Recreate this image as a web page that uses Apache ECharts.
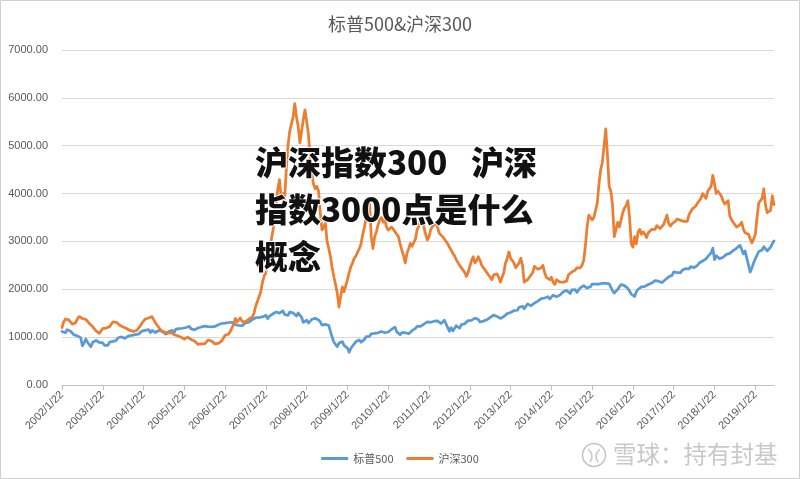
<!DOCTYPE html>
<html>
<head>
<meta charset="utf-8">
<script src="https://cdn.jsdelivr.net/npm/echarts@6/dist/echarts.min.js"></script>
<style>
html,body{margin:0;padding:0;background:#fff;}
#chart{width:800px;height:479px;}
</style>
</head>
<body>
<div id="chart"></div>
<script>
// Semi-monthly samples (7th and 22nd of each month) from 2002/1/22 to 2019/7/7
const seriesNames = ['标普500', '沪深300'];
const titleText = '标普500&沪深300';
const headlineA = '沪深指数300';
const headlineB = '沪深';
const headlineRest = '指数3000点是什么\n概念';
const watermark = '雪球：持有封基';

const sp500 = [
  1119,1081,1090,1157,1148,1122,1097,1050,1086,1027,990,990,820,876,962,893,845,800,890,923,930,907,889,922,
  878,830,848,829,895,878,911,929,933,987,995,1004,988,974,993,1021,1022,1039,1030,1053,1035,1061,1092,1126,
  1143,1142,1144,1156,1095,1140,1139,1098,1094,1140,1144,1118,1097,1064,1098,1121,1113,1142,1095,1166,1177,1178,1210,1186,
  1167,1202,1184,1225,1172,1191,1152,1171,1190,1197,1213,1198,1230,1226,1220,1236,1214,1190,1223,1250,1260,1268,1285,1262,
  1292,1276,1306,1296,1311,1325,1263,1257,1245,1265,1241,1276,1298,1294,1315,1350,1368,1383,1406,1412,1410,1410,1423,1450,
  1457,1385,1436,1443,1485,1509,1525,1490,1503,1530,1550,1476,1464,1453,1525,1557,1506,1476,1440,1504,1485,1416,1310,1336,
  1353,1293,1330,1373,1376,1393,1391,1360,1318,1252,1282,1266,1292,1242,1207,996,896,930,800,876,871,906,828,868,
  770,683,768,815,843,907,887,940,893,881,954,1010,1026,1016,1071,1057,1081,1069,1091,1103,1118,1141,1092,1067,
  1108,1138,1166,1182,1208,1110,1088,1051,1096,1060,1093,1121,1071,1092,1134,1159,1183,1225,1198,1224,1258,1271,1283,1319,
  1315,1310,1293,1333,1337,1340,1317,1285,1287,1353,1345,1199,1124,1198,1129,1155,1238,1261,1188,1261,1254,1278,1315,1347,
  1357,1352,1393,1398,1378,1369,1316,1315,1335,1355,1362,1401,1413,1437,1460,1460,1433,1395,1391,1418,1430,1461,1492,1509,
  1516,1544,1556,1553,1562,1625,1655,1643,1592,1631,1695,1690,1656,1655,1710,1676,1754,1747,1804,1805,1818,1838,1844,1797,
  1836,1878,1866,1845,1879,1878,1892,1950,1962,1977,1983,1910,1988,2007,1994,1935,1928,2031,2063,2075,2070,2025,2063,2055,
  2110,2071,2108,2076,2107,2088,2126,2092,2122,2081,2114,2078,1971,1921,1943,1995,2052,2099,2089,2077,2038,2020,1960,1900,
  1880,1850,1950,2000,2040,2050,2080,2060,2060,2100,2080,2130,2170,2180,2180,2170,2150,2140,2130,2200,2240,2260,2270,2290,
  2362,2368,2348,2355,2349,2399,2395,2433,2434,2425,2472,2480,2452,2465,2502,2549,2575,2591,2597,2636,2683,2700,2760,2860,
  2620,2700,2720,2640,2610,2670,2680,2730,2770,2750,2770,2810,2850,2860,2880,2920,2880,2740,2800,2650,2630,2360,2450,2550,
  2640,2710,2790,2750,2820,2890,2900,2800,2760,2880,2950,3010
];

const csi300 = [
  1200,1320,1380,1370,1360,1330,1270,1250,1300,1380,1430,1420,1390,1400,1370,1330,1290,1250,1220,1180,1130,1100,1080,1120,
  1180,1170,1190,1210,1220,1270,1320,1300,1310,1290,1250,1230,1210,1190,1180,1170,1140,1130,1120,1110,1140,1180,1230,1290,
  1320,1380,1410,1400,1420,1430,1360,1300,1250,1200,1150,1120,1110,1090,1080,1060,1100,1080,1050,1040,1030,1010,1000,990,
  960,950,1000,1010,950,930,920,900,850,830,860,880,860,900,940,930,920,890,860,850,870,890,920,960,
  1040,1030,1060,1120,1160,1260,1390,1320,1350,1400,1330,1290,1320,1350,1380,1400,1420,1500,1650,1750,1850,1950,2150,2280,
  2350,2500,2800,3000,3200,3400,3800,4100,4290,3900,4000,3870,4500,5000,5300,5450,5600,5880,5600,5400,5060,5300,5550,5750,
  5500,5250,4800,4430,4200,4100,4150,4050,3600,3240,3300,3380,3000,2850,2680,2450,2260,2100,1920,1630,1850,2050,1950,1920,
  2200,2350,2475,2550,2650,2700,2780,2850,2950,3150,3300,3500,3650,3800,3100,2850,3100,3200,3350,3450,3500,3400,3450,3300,
  3240,3250,3300,3310,3200,3150,3100,2950,2820,2700,2550,2750,2850,2960,2900,2890,3050,3250,3310,3450,3500,3300,3150,3030,
  3100,3250,3310,3350,3380,3300,3170,3150,3100,3050,3030,2950,2880,2820,2750,2700,2620,2580,2500,2480,2400,2350,2270,2350,
  2480,2600,2680,2550,2600,2680,2600,2500,2450,2400,2350,2300,2250,2200,2300,2280,2320,2250,2150,2150,2350,2550,2650,2780,
  2650,2600,2550,2450,2450,2550,2650,2500,2150,2150,2200,2250,2300,2350,2480,2450,2420,2400,2450,2500,2350,2250,2250,2200,
  2250,2150,2100,2200,2180,2150,2150,2150,2150,2170,2300,2300,2360,2400,2400,2450,2450,2450,2500,2600,2900,3300,3550,3500,
  3450,3500,3530,3800,4200,4500,4650,5000,5350,4800,4150,4050,3750,3100,3250,3400,3300,3450,3600,3700,3750,3850,3500,2950,
  2880,3100,2950,3200,3250,3150,3200,3150,3080,3180,3150,3250,3230,3250,3330,3350,3270,3280,3350,3450,3550,3380,3320,3370,
  3380,3420,3470,3450,3440,3480,3420,3380,3420,3560,3620,3680,3720,3740,3800,3850,3900,4000,3950,3900,4050,4050,4150,4380,
  4200,4000,4050,4000,3950,3850,3780,3800,3850,3530,3450,3400,3350,3300,3280,3350,3400,3250,3180,3200,3150,3050,2970,3050,
  3150,3500,3800,3850,3900,4100,3750,3600,3600,3650,3950,3770
];

// category dates
const dates = [];
for (let y = 2002; y <= 2019; y++) {
  for (let m = 1; m <= 12; m++) {
    for (const d of [7, 22]) {
      if (y === 2002 && m === 1 && d === 7) continue;
      if (y === 2019 && (m > 7 || (m === 7 && d === 22))) continue;
      dates.push(y + '/' + m + '/' + d);
    }
  }
}
const isYearTick = (i, v) => /\/1\/22$/.test(v);

const chart = echarts.init(document.getElementById('chart'), null, {renderer: 'canvas'});
const labelColor = '#595959';
const headFont = '900 33px "Noto Sans CJK SC", sans-serif';
chart.setOption({
  animation: false,
  backgroundColor: '#fff',
  color: ['#5B9BD5', '#ED7D31'],
  title: {
    text: titleText,
    left: 'center',
    top: 10,
    textStyle: {fontSize: 18, fontWeight: 'normal', color: labelColor, fontFamily: '"Noto Sans CJK SC", sans-serif'}
  },
  legend: {
    data: seriesNames,
    bottom: 10,
    left: 'center',
    icon: 'rect',
    itemWidth: 27,
    itemHeight: 3,
    itemGap: 13,
    textStyle: {fontSize: 11, color: labelColor, fontFamily: '"Noto Sans CJK SC", sans-serif'}
  },
  grid: {left: 62, right: 26, top: 50, bottom: 94, containLabel: false},
  xAxis: {
    type: 'category',
    data: dates,
    boundaryGap: false,
    axisLine: {lineStyle: {color: '#BFBFBF', width: 1}},
    axisTick: {show: true, interval: isYearTick, length: 5, lineStyle: {color: '#BFBFBF'}},
    axisLabel: {
      interval: isYearTick,
      rotate: 45,
      fontSize: 11,
      color: labelColor,
      fontFamily: '"Liberation Sans", Arial, sans-serif',
      margin: 8
    },
    splitLine: {show: false}
  },
  yAxis: {
    type: 'value',
    min: 0,
    max: 7000,
    interval: 1000,
    axisLine: {show: false},
    axisTick: {show: false},
    axisLabel: {
      formatter: v => v.toFixed(2),
      fontSize: 11,
      color: labelColor,
      margin: 14,
      fontFamily: '"Liberation Sans", Arial, sans-serif'
    },
    splitLine: {lineStyle: {color: '#D9D9D9', width: 1}}
  },
  series: [
    {name: seriesNames[0], type: 'line', data: sp500, showSymbol: false, symbol: 'none',
     lineStyle: {width: 2.75, color: '#5B9BD5', join: 'round', cap: 'round'}, z: 2},
    {name: seriesNames[1], type: 'line', data: csi300, showSymbol: false, symbol: 'none',
     lineStyle: {width: 2.75, color: '#ED7D31', join: 'round', cap: 'round'}, z: 3}
  ],
  graphic: [
    {type: 'rect', z: 100, silent: true,
     shape: {x: 0.5, y: 0.5, width: 799, height: 478},
     style: {fill: null, stroke: '#D0D0D0', lineWidth: 1}},
    {type: 'text', z: 100, x: 255, y: 139, silent: true,
     style: {text: headlineA, font: headFont, fill: '#111111', stroke: '#ffffff', lineWidth: 2, lineHeight: 47}},
    {type: 'text', z: 100, x: 471, y: 139, silent: true,
     style: {text: headlineB, font: headFont, fill: '#111111', stroke: '#ffffff', lineWidth: 2, lineHeight: 47}},
    {type: 'text', z: 100, x: 255, y: 186, silent: true,
     style: {text: headlineRest, font: headFont, fill: '#111111', stroke: '#ffffff', lineWidth: 2, lineHeight: 47}},
    {type: 'circle', z: 100, silent: true, shape: {cx: 594, cy: 455, r: 11.5},
     style: {fill: null, stroke: '#C4C4C4', lineWidth: 1.5}},
    {type: 'bezierCurve', z: 100, silent: true,
     shape: {x1: 588, y1: 449, x2: 590, y2: 462, cpx1: 595, cpy1: 455},
     style: {fill: null, stroke: '#C4C4C4', lineWidth: 1.3}},
    {type: 'bezierCurve', z: 100, silent: true,
     shape: {x1: 600, y1: 449, x2: 598, y2: 462, cpx1: 593, cpy1: 455},
     style: {fill: null, stroke: '#C4C4C4', lineWidth: 1.3}},
    {type: 'text', z: 100, x: 613, y: 442, silent: true,
     style: {text: watermark, font: '23.5px "Noto Sans CJK SC", sans-serif', fill: '#C8C8C8'}}
  ]
});
</script>
</body>
</html>
